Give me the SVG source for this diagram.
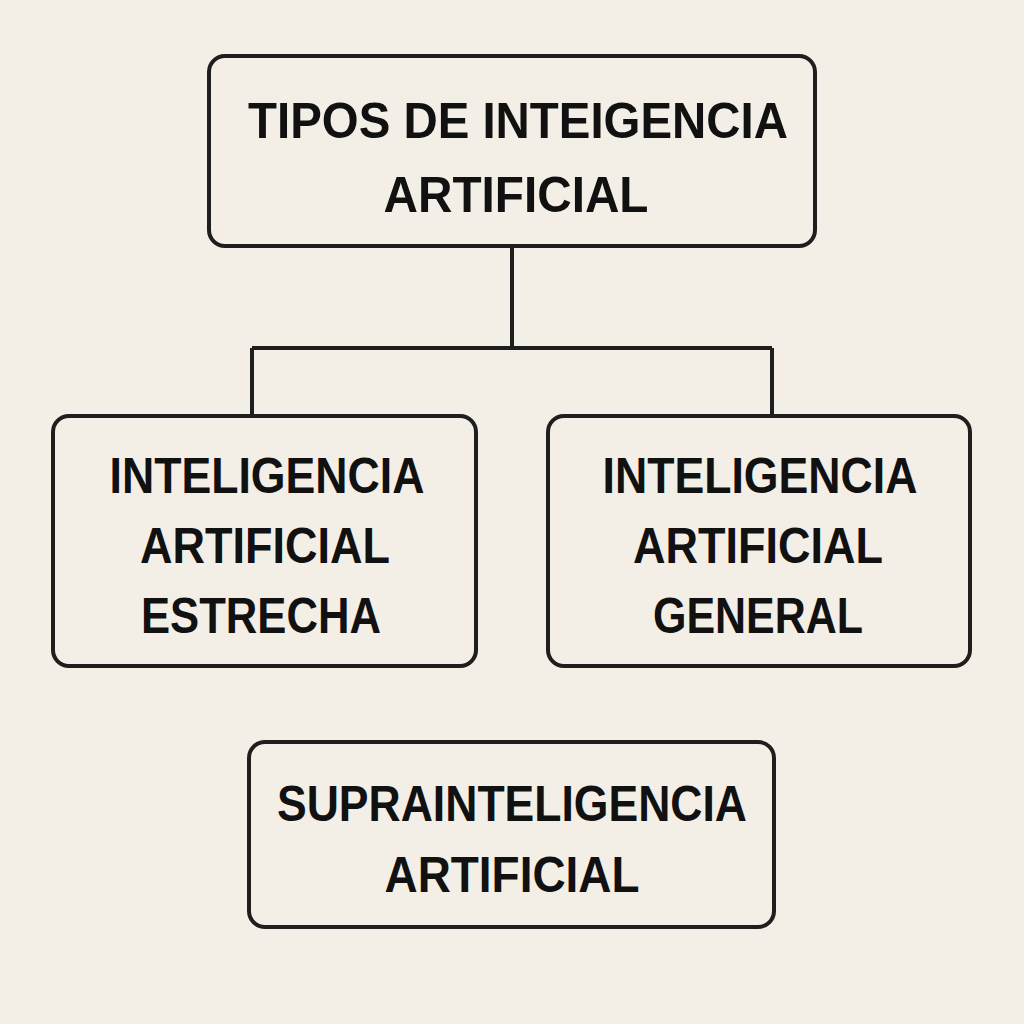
<svg xmlns="http://www.w3.org/2000/svg" width="1024" height="1024" viewBox="0 0 1024 1024">
<style>
.box{fill:#f4efe6;stroke:#1e1e1e;stroke-width:4}
.t{font-family:"Liberation Sans",Arial,sans-serif;font-size:50px;font-weight:bold;fill:#111;text-anchor:middle}
.c{fill:none;stroke:#1e1e1e;stroke-width:4}
</style>
<rect width="1024" height="1024" fill="#f3efe6"/>
<g id="connectors">
<path class="c" d="M512 246V348M252 348H772M252 348V416M772 348V416"/>
</g>
<g id="root">
<rect class="box" x="209" y="56" width="606" height="190" rx="16"/>
<text class="t" x="518" y="138" textLength="540" lengthAdjust="spacingAndGlyphs">TIPOS DE INTEIGENCIA</text>
<text class="t" x="516" y="212" textLength="265" lengthAdjust="spacingAndGlyphs">ARTIFICIAL</text>
</g>
<g id="estrecha">
<rect class="box" x="53" y="416" width="423" height="250" rx="16"/>
<text class="t" x="267" y="493" textLength="315" lengthAdjust="spacingAndGlyphs">INTELIGENCIA</text>
<text class="t" x="265" y="563" textLength="250" lengthAdjust="spacingAndGlyphs">ARTIFICIAL</text>
<text class="t" x="261" y="633" textLength="240" lengthAdjust="spacingAndGlyphs">ESTRECHA</text>
</g>
<g id="general">
<rect class="box" x="548" y="416" width="422" height="250" rx="16"/>
<text class="t" x="760" y="493" textLength="315" lengthAdjust="spacingAndGlyphs">INTELIGENCIA</text>
<text class="t" x="758" y="563" textLength="250" lengthAdjust="spacingAndGlyphs">ARTIFICIAL</text>
<text class="t" x="758" y="633" textLength="210" lengthAdjust="spacingAndGlyphs">GENERAL</text>
</g>
<g id="supra">
<rect class="box" x="249" y="742" width="525" height="185" rx="16"/>
<text class="t" x="512" y="821" textLength="470" lengthAdjust="spacingAndGlyphs">SUPRAINTELIGENCIA</text>
<text class="t" x="512" y="892" textLength="255" lengthAdjust="spacingAndGlyphs">ARTIFICIAL</text>
</g>
</svg>
